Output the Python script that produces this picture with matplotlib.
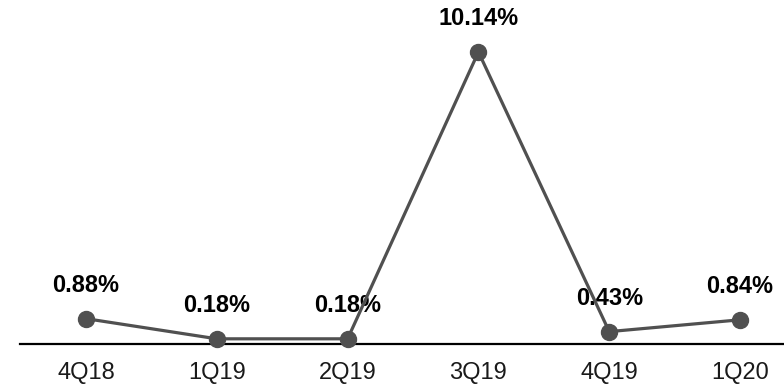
import matplotlib.pyplot as plt

quarters = ['4Q18', '1Q19', '2Q19', '3Q19', '4Q19', '1Q20']
rates = [0.88, 0.18, 0.18, 10.14, 0.43, 0.84]
labels = ['0.88%', '0.18%', '0.18%', '10.14%', '0.43%', '0.84%']

plt.rcParams['font.family'] = ['Liberation Sans', 'DejaVu Sans']

fig = plt.figure(figsize=(7.84, 3.85), dpi=100)
ax = fig.add_axes([20 / 784, 41 / 385, 764 / 784, 331.2 / 385])

x = list(range(len(quarters)))
ax.plot(x, rates, color='#505050', lw=2.3, marker='o', markersize=11.5, zorder=3, clip_on=False)

for xi, yi, lab in zip(x, rates, labels):
    ax.annotate(lab, (xi, yi), xytext=(0, 24), textcoords='offset points',
                ha='center', va='center', fontsize=17, fontweight='bold',
                color='black', zorder=1, annotation_clip=False)

ax.set_xlim(-0.5046, 5.336)
ax.set_ylim(0, 11.5)
ax.set_xticks(x)
ax.set_xticklabels(quarters, fontsize=17, color='#1a1a1a')
ax.set_yticks([])
ax.tick_params(axis='x', length=0, pad=13)

for s in ['top', 'left', 'right']:
    ax.spines[s].set_visible(False)
ax.spines['bottom'].set_linewidth(1.6)
ax.spines['bottom'].set_color('black')
ax.spines['bottom'].set_zorder(2)

fig.savefig('out.png', dpi=100)
